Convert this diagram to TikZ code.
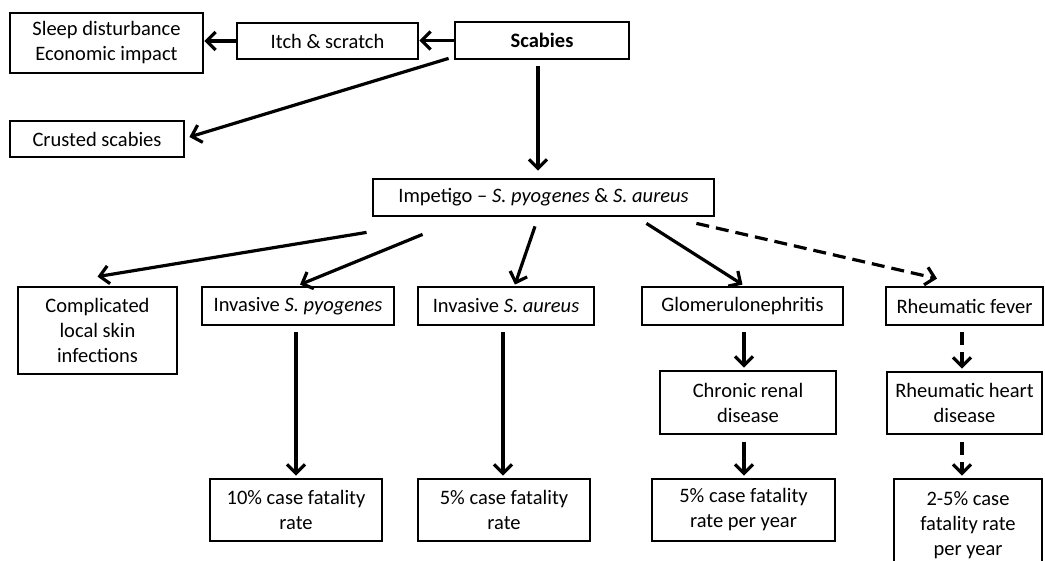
\documentclass[tikz,border=0pt]{standalone}
\usepackage{fontspec}
\setmainfont{Carlito}
\usetikzlibrary{arrows.meta,calc}
\begin{document}
\begin{tikzpicture}[x=1pt,y=-1pt,
  box/.style={draw, line width=2.8pt, inner sep=0pt, align=center,
    font=\fontsize{20.5}{25}\selectfont},
  arr/.style={line width=3.2pt, -{Straight Barb[length=9pt,width=18pt,line width=3.2pt]}},
  darr/.style={arr, dash pattern=on 13pt off 7pt}
]
\useasboundingbox (0,0) rectangle (1045,561);
\fill[white] (0,0) rectangle (1045,561);

\node[box, minimum width=193pt, minimum height=60pt] (sleep) at (106.5,43) {Sleep disturbance\\Economic impact};
\node[box, minimum width=181pt, minimum height=36pt] (itch) at (327.5,41) {Itch \& scratch};
\node[box, minimum width=174pt, minimum height=37pt] (scab) at (542,40.5) {\textbf{Scabies}};
\node[box, minimum width=174pt, minimum height=36pt] (crust) at (97,139) {Crusted scabies};
\node[box, minimum width=341pt, minimum height=37pt] (imp) at (543.5,197.5) {Impetigo -- \textit{S. pyogenes} \& \textit{S. aureus}};
\node[box, minimum width=159pt, minimum height=87pt] (comp) at (97.5,330.5) {Complicated\\local skin\\infections};
\node[box, minimum width=192pt, minimum height=38pt] (ipyo) at (298,306) {Invasive \textit{S. pyogenes}};
\node[box, minimum width=176pt, minimum height=38pt] (iaur) at (506,306) {Invasive \textit{S. aureus}};
\node[box, minimum width=201pt, minimum height=38pt] (glom) at (742.5,306) {Glomerulonephritis};
\node[box, minimum width=157pt, minimum height=38pt] (rf) at (964.5,306) {Rheumatic fever};
\node[box, minimum width=176pt, minimum height=63pt] (crd) at (748,402.5) {Chronic renal\\disease};
\node[box, minimum width=155pt, minimum height=62pt] (rhd) at (964.5,403) {Rheumatic heart\\disease};
\node[box, minimum width=172pt, minimum height=62pt] (f10) at (296,510) {10\% case fatality\\rate};
\node[box, minimum width=172pt, minimum height=62pt] (f5) at (504,510) {5\% case fatality\\rate};
\node[box, minimum width=183pt, minimum height=62pt] (f5y) at (743.5,510) {5\% case fatality\\rate per year};
\node[box, minimum width=148pt, minimum height=92pt] (f25) at (968,525) {2-5\% case\\fatality rate\\per year};

\draw[arr] (itch.west) -- (sleep.east |- itch.west);
\draw[arr] (scab.west) -- (itch.east |- scab.west);
\draw[arr] ($(scab.south west)+(-5,-2)$) -- ($(crust.east)+(4,-2)$);
\draw[arr] ($(scab.south)+(-4,6)$) -- ($(imp.north)+(-5.5,-7)$);

\draw[arr] ($(imp.south west)+(-5,15)$) -- ($(comp.north)+(0,-9)$);
\draw[arr] ($(imp.south west)+(51,17)$) -- ($(ipyo.north)+(2,-1)$);
\draw[arr] ($(imp.south)+(-8.5,9)$) -- ($(iaur.north)+(9,-1)$);
\draw[arr] ($(imp.south east)+(-69,6)$) -- ($(glom.north)+(0,-1)$);
\draw[darr] ($(imp.south east)+(-19,6)$) -- ($(rf.north)+(-27.5,-7)$);

\draw[arr] ($(ipyo.south)+(-2,6)$) -- ($(f10.north)+(0,-2)$);
\draw[arr] ($(iaur.south)+(-3,6)$) -- ($(f5.north)+(-1,-2)$);
\draw[arr] ($(glom.south)+(1.5,6)$) -- ($(crd.north)+(-4,-2)$);
\draw[arr] ($(crd.south)+(-4,7)$) -- ($(f5y.north)+(0.5,-2)$);
\draw[darr] ($(rf.south)+(-2.5,6)$) -- ($(rhd.north)+(-2.5,-2)$);
\draw[darr] ($(rhd.south)+(-2.5,7)$) -- ($(f25.north)+(-6,-2)$);
\end{tikzpicture}
\end{document}
